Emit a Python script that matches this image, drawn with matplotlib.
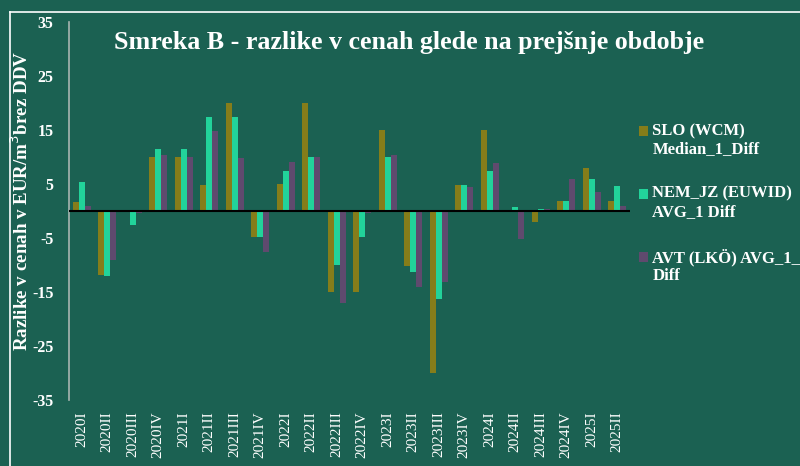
#!/usr/bin/env python3

import numpy as np
import matplotlib
matplotlib.use("Agg")
import matplotlib.pyplot as plt
from matplotlib.lines import Line2D
from matplotlib.patches import Rectangle
from matplotlib.legend_handler import HandlerPatch

# quarters on the x axis
quarters = ["2020I", "2020II", "2020III", "2020IV",
            "2021I", "2021II", "2021III", "2021IV",
            "2022I", "2022II", "2022III", "2022IV",
            "2023I", "2023II", "2023III", "2023IV",
            "2024I", "2024II", "2024III", "2024IV",
            "2025I", "2025II"]

# price differences vs previous period, EUR/m3 without VAT
slo_wcm = [1.7, -11.8, 0.0, 10.0, 10.0, 4.8, 20.0, -4.9, 5.0, 20.0, -15.0, -15.0,
           15.0, -10.1, -30.0, 4.9, 15.0, 0.0, -2.1, 1.9, 8.0, 1.9]
nem_jz = [5.4, -12.0, -2.5, 11.4, 11.4, 17.4, 17.4, -4.9, 7.4, 10.0, -10.0, -4.9,
          10.0, -11.3, -16.3, 4.9, 7.4, 0.7, 0.3, 1.9, 5.9, 4.6]
avt_lko = [0.9, -9.1, -0.4, 10.4, 10.0, 14.9, 9.9, -7.5, 9.0, 10.0, -17.0, -0.4,
           10.4, -14.1, -13.1, 4.4, 8.9, -5.1, 0.3, 5.9, 3.5, 0.9]

series_labels = ["SLO (WCM)\nMedian_1_Diff",
                 "NEM_JZ (EUWID)\nAVG_1 Diff",
                 "AVT (LKÖ) AVG_1_\nDiff"]
y_ticks = [35, 25, 15, 5, -5, -15, -25, -35]

bg = "#1b6152"
colors = ["#857d1a", "#22d39a", "#5f4a6e"]
serif = ["Liberation Serif", "DejaVu Serif"]


def top_square(legend, orig_handle, xdescent, ydescent, width, height, fontsize):
    # put the legend square next to the first line of the label
    return Rectangle((-xdescent, -ydescent + 0.55 * fontsize), width, height)


def main() -> None:
    plt.rcParams["font.family"] = serif

    fig = plt.figure(figsize=(8, 4.66), dpi=100, facecolor=bg)
    ax = fig.add_axes([69 / 800, 1 - 400 / 466, (630 - 69) / 800, (400 - 22) / 466])
    ax.set_facecolor(bg)

    x = np.arange(len(quarters))
    w = 0.235
    bars = []
    for i, (vals, col, lab) in enumerate(zip([slo_wcm, nem_jz, avt_lko], colors, series_labels)):
        b = ax.bar(x + (i - 1) * w, vals, width=w, color=col, label=lab, zorder=2)
        bars.append(b)

    ax.axhline(0, color="black", lw=1.5, zorder=3)
    ax.set_xlim(-0.5, len(quarters) - 0.5)
    ax.set_ylim(-35, 35)
    ax.set_yticks(y_ticks)
    ax.set_yticklabels([str(t) for t in y_ticks], color="white", fontsize=11.5, fontweight="bold")
    ax.set_xticks(x)
    ax.set_xticklabels(quarters, rotation=90, color="white", fontsize=11, va="top")
    ax.tick_params(axis="both", length=0)
    ax.tick_params(axis="y", pad=11)
    ax.tick_params(axis="x", pad=8)

    for s in ["top", "right", "bottom"]:
        ax.spines[s].set_visible(False)
    ax.spines["left"].set_color("#a8b4b0")
    ax.spines["left"].set_linewidth(1.2)

    # white frame lines
    fig.add_artist(Line2D([10 / 800, 1], [1 - 12 / 466, 1 - 12 / 466], color="white", lw=1.2))
    fig.add_artist(Line2D([10 / 800, 10 / 800], [0, 1 - 12 / 466], color="white", lw=1.2))

    fig.text(409 / 800, 1 - 42 / 466, "Smreka B - razlike v cenah glede na prejšnje obdobje",
             color="white", fontsize=18.7, fontweight="bold", ha="center", va="center")
    fig.text(21 / 800, 1 - 201 / 466, "Razlike v cenah v EUR/m$^3$brez DDV",
             color="white", fontsize=13.7, fontweight="bold", rotation=90, ha="center", va="center")

    ax.legend(handles=[b.patches[0] for b in bars], labels=series_labels,
              handler_map={Rectangle: HandlerPatch(patch_func=top_square)},
              loc="upper left", bbox_to_anchor=(624 / 800, 1 - 108 / 466),
              bbox_transform=fig.transFigure, frameon=False,
              prop={"size": 12, "weight": "bold"}, labelcolor="white",
              handlelength=0.55, handleheight=0.55, handletextpad=0.25, labelspacing=1.7)

    fig.savefig("out.png", dpi=100, facecolor=bg)


if __name__ == "__main__":
    main()
